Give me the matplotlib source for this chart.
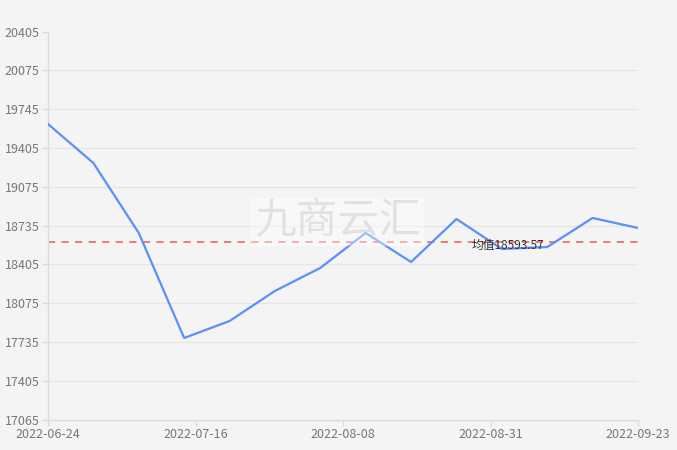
import matplotlib
matplotlib.use("Agg")
import matplotlib.pyplot as plt
import numpy as np
import pandas as pd

plt.rcParams['font.family'] = ['Noto Sans CJK SC', 'DejaVu Sans']

dates = pd.to_datetime([
    "2022-06-24", "2022-07-01", "2022-07-08", "2022-07-15", "2022-07-22",
    "2022-07-29", "2022-08-05", "2022-08-12", "2022-08-19", "2022-08-26",
    "2022-09-02", "2022-09-09", "2022-09-16", "2022-09-23"])
values = [19613, 19277, 18675, 17771, 17917, 18176, 18374,
          18675, 18425, 18795, 18537, 18554, 18804, 18718]
mean_value = 18593.57
mean_label = "均值18593.57"
y_ticks = [17065, 17405, 17735, 18075, 18405, 18735, 19075, 19405, 19745, 20075, 20405]
x_tick_labels = ["2022-06-24", "2022-07-16", "2022-08-08", "2022-08-31", "2022-09-23"]
watermark = "九商云汇"

bg = "#f4f4f4"
fig = plt.figure(figsize=(6.77, 4.5), dpi=100, facecolor=bg)
ax = fig.add_axes([48/677, 1-420/450, 590/677, 388/450], facecolor=bg)

x0, x1 = dates[0], dates[-1]
xt = [x0 + (x1 - x0) * i / (len(x_tick_labels) - 1) for i in range(len(x_tick_labels))]

# grid
for yv in y_ticks[1:-1]:
    ax.axhline(yv, color="#e6e6e6", lw=1, zorder=0)

ax.plot(dates, values, color="#5b8ff9", lw=1.6, zorder=3)
ax.plot([x0, x1], [mean_value, mean_value], color="#f07070", lw=1.3,
        dashes=(4, 3.5), zorder=2)

ax.text(dates[10] + pd.Timedelta(days=0.9), mean_value - 25, mean_label,
        ha="center", va="center", fontsize=8.5, color="#333333", zorder=4)

fig.text((255+420)/2/677, 1-222/450, watermark, ha="center", va="center",
         fontsize=30, color="#dedede", alpha=0.85,
         bbox=dict(boxstyle="square,pad=0.08", fc="#ffffff", ec="none", alpha=0.4),
         zorder=5)

ax.set_xlim(x0, x1)
ax.set_ylim(y_ticks[0], y_ticks[-1])
ax.set_yticks(y_ticks)
ax.set_yticklabels([str(v) for v in y_ticks])
ax.set_xticks(xt)
ax.set_xticklabels(x_tick_labels)

for s in ["top", "right"]:
    ax.spines[s].set_visible(False)
for s in ["left", "bottom"]:
    ax.spines[s].set_color("#dcdcdc")
    ax.spines[s].set_linewidth(1)

ax.tick_params(axis="both", colors="#dcdcdc", labelcolor="#777777",
               labelsize=9, length=4, width=1)
ax.tick_params(axis="y", pad=2)
ax.tick_params(axis="x", pad=2)

fig.savefig("out.png", dpi=100, facecolor=bg)
